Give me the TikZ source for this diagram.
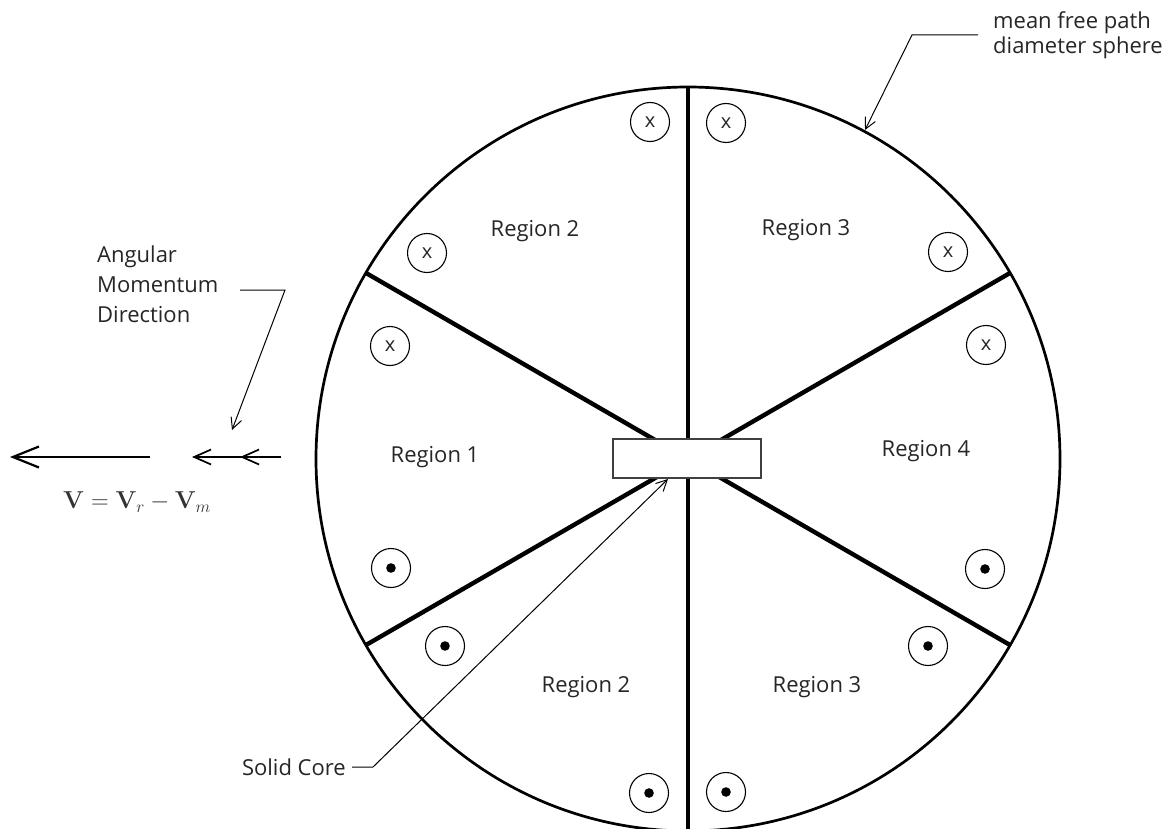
\RequirePackage{fix-cm}
\documentclass[tikz,border=0pt]{standalone}
\usepackage[no-math]{fontspec}
\setmainfont{Open Sans}
\usetikzlibrary{arrows.meta}
\begin{document}
\begin{tikzpicture}[x=1pt,y=-1pt,
  lbl/.style={font=\fontsize{22}{26}\selectfont, text=black!85, inner sep=0pt},
  xmk/.style={circle, draw, line width=1.1pt, minimum size=39pt, inner sep=0pt, font=\fontsize{20}{20}\selectfont, text=black!85},
  dmk/.style={circle, draw, line width=1.1pt, minimum size=39pt, inner sep=0pt},
  spoke/.style={line width=4.4pt},
  leader/.style={line width=1pt, -{Straight Barb[length=11pt,width=11pt]}},
]
\useasboundingbox (0,0) rectangle (1167,829);
\fill[white] (0,0) rectangle (1167,829);

% centre and outer sphere
\coordinate (c) at (688,459);
\draw[line width=2.7pt] (c) circle[radius=372];

% spokes
\coordinate (s1) at (366,273);
\coordinate (s2) at (1010,273);
\coordinate (s3) at (366,645);
\coordinate (s4) at (1010,645);
\coordinate (vt) at (688,87);
\coordinate (vb) at (688,835);
\draw[spoke] (c) -- (s1);
\draw[spoke] (c) -- (s2);
\draw[spoke] (c) -- (s3);
\draw[spoke] (c) -- (s4);
\draw[line width=4pt] (vt) -- (vb);

% solid core
\node[draw=black!75, fill=white, line width=1.2pt, minimum width=148pt, minimum height=39pt, inner sep=0pt] (core) at (687,458.5) {};

% x marks
\node[xmk] (x1) at (650,122) {x};
\node[xmk] (x2) at (726,123) {x};
\node[xmk] (x3) at (427,253) {x};
\node[xmk] (x4) at (948,252) {x};
\node[xmk] (x5) at (390,346) {x};
\node[xmk] (x6) at (986,345) {x};

% dot marks
\node[dmk] (d1) at (391,568) {};
\node[dmk] (d2) at (985,569) {};
\node[dmk] (d3) at (445,646) {};
\node[dmk] (d4) at (928,646) {};
\node[dmk] (d5) at (649,793) {};
\node[dmk] (d6) at (726,792) {};
\foreach \d in {d1,d2,d3,d4,d5,d6} \fill (\d.center) circle[radius=4.8];

% region labels
\node[lbl] (r2a) at (535,231) {Region 2};
\node[lbl] (r3a) at (806,230) {Region 3};
\node[lbl] (r1) at (435,457) {Region 1};
\node[lbl] (r4) at (926,451) {Region 4};
\node[lbl] (r2b) at (586,687) {Region 2};
\node[lbl] (r3b) at (817,687) {Region 3};

% mean free path label
\node[lbl, align=left, anchor=north west, font=\fontsize{22}{25}\selectfont] (mfp) at (993,11) {mean free path\\diameter sphere};
\coordinate (m1) at (978,35);
\coordinate (m2) at (912,35);
\coordinate (mtip) at (865,130);
\draw[leader] (m1) -- (m2) -- (mtip);

% solid core label
\node[lbl, anchor=east] (sc) at (346,767) {Solid Core};
\coordinate (sc1) at (352,767);
\coordinate (sc2) at (373,767);
\coordinate (sctip) at (668,479);
\draw[leader] (sc1) -- (sc2) -- (sctip);

% angular momentum label
\node[lbl, align=left, anchor=north west, font=\fontsize{22}{30}\selectfont] (am) at (97,246) {Angular\\Momentum\\Direction};
\coordinate (a1) at (240,290);
\coordinate (a2) at (285,290);
\coordinate (atip) at (232,430);
\draw[leader] (a1) -- (a2) -- (atip);

% velocity arrows
\coordinate (vl1) at (150,457);
\coordinate (vl0) at (10,457);
\draw[line width=2.2pt, -{Straight Barb[length=26pt,width=21pt]}] (vl1) -- (vl0);
\coordinate (vr1) at (281,457);
\coordinate (vr0) at (192,457);
\coordinate (vr2) at (240,457);
\draw[line width=1.7pt, -{Straight Barb[length=17pt,width=15pt]}] (vr1) -- (vr0);
\draw[line width=1.7pt, -{Straight Barb[length=17pt,width=15pt]}] (vr1) -- (vr2);

% formula
\node[text=black!80, font=\fontsize{24.5}{28}\selectfont] (eq) at (137,502) {$\mathbf{V}=\mathbf{V}_{r}-\mathbf{V}_{m}$};
\end{tikzpicture}
\end{document}
